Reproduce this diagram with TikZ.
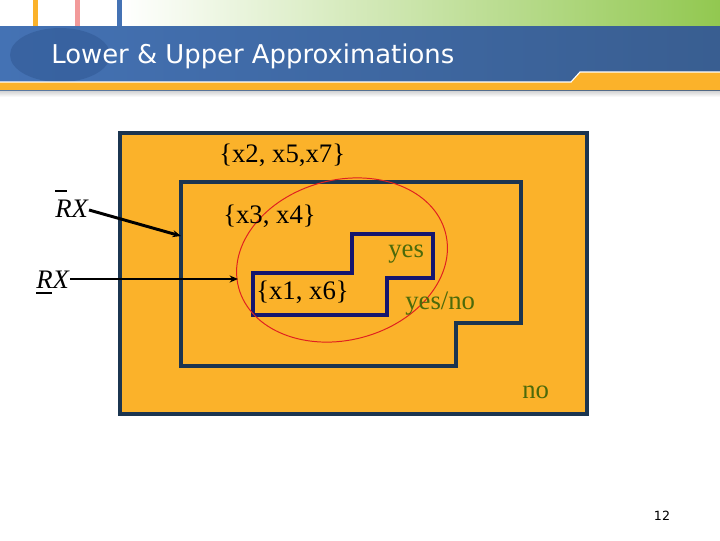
\documentclass[tikz,border=0pt]{standalone}
\usepackage{fontspec}
\setmainfont{Liberation Serif}
\newfontfamily\hdrfont{DejaVu Sans}
\usetikzlibrary{
    arrows.meta
}

\definecolor{boxorange}{RGB}{251,178,42}
\definecolor{boxnavy}{RGB}{27,53,80}
\definecolor{lownavy}{RGB}{22,22,110}
\definecolor{ansgreen}{RGB}{76,106,10}
\definecolor{hdrblueL}{RGB}{68,114,180}
\definecolor{hdrblueR}{RGB}{57,94,145}
\definecolor{hdrgreen}{RGB}{146,200,80}
\definecolor{hdrpink}{RGB}{242,154,154}
\definecolor{hdrdot}{RGB}{50,90,150}
\definecolor{ellred}{RGB}{224,32,32}

\newcommand\upperR{\rlap{\raisebox{0.95em}{\rule{0.45em}{0.07em}}}R}
\newcommand\lowerR{\rlap{\raisebox{-0.22em}{\rule{0.6em}{0.07em}}}R}

\begin{document}
\begin{tikzpicture}[x=0.025cm,y=-0.025cm,
    settext/.style={anchor=base west,inner sep=0pt,font=\fontsize{19}{22}\selectfont},
    anstext/.style={settext,text=ansgreen},
    approxline/.style={line width=2.8pt,line join=miter},
    pointer/.style={line width=2.1pt,-{Stealth[length=6pt,width=5pt]}}]

\useasboundingbox (0,0) rectangle (720,540);

% Header strip
\shade[left color=white,right color=hdrgreen] (122,0) rectangle (720,26);
\fill[boxorange] (33,0) rectangle (38,26);
\fill[hdrpink] (75,0) rectangle (80,26);
\fill[hdrblueL] (117,0) rectangle (122,26);
\shade[top color=gray!45,bottom color=white] (0,89) rectangle (720,97);
\shade[left color=hdrblueL,right color=hdrblueR] (0,26) rectangle (720,90);
\fill[hdrdot,opacity=0.6] (60,55) ellipse (50 and 27);
\fill[boxorange] (0,82) -- (571,82) -- (580,72) -- (720,72) -- (720,90) -- (0,90) -- cycle;
\draw[white,line width=0.8pt] (0,82) -- (571,82) -- (580,72) -- (720,72);
\node[anchor=base west,inner sep=0pt,text=white,
      font=\hdrfont\fontsize{18.4}{22}\selectfont] (title) at (51,63) {Lower \& Upper Approximations};

% Universe
\filldraw[fill=boxorange,draw=boxnavy,line width=2.8pt] (120,133) rectangle (587,414);

% Upper approximation
\draw[boxnavy,approxline]
(181,182) --
(521,182) --
(521,323) --
(456,323) --
(456,366) --
(181,366) -- cycle;

% Lower approximation
\draw[lownavy,approxline]
(253,273) --
(352,273) --
(352,234) --
(433,234) --
(433,278) --
(387,278) --
(387,315) --
(253,315) -- cycle;

% Set X
\draw[ellred,line width=0.7pt,rotate around={15:(342,260)}] (342,260) ellipse (107 and 80);

% Sets and answers
\node[settext] (bnd) at (219,162) {\{x2, x5,x7\}};
\node[settext] (upset) at (223,223) {\{x3, x4\}};
\node[settext] (lowset) at (256,299) {\{x1, x6\}};
\node[anstext] (yes) at (388,257) {yes};
\node[anstext] (yesno) at (405,309) {yes/no};
\node[anstext] (no) at (522,398) {no};

% Approximation labels
\node[settext] (upRX) at (55,217) {\textit{\upperR X}};
\node[settext] (lowRX) at (36,288) {\textit{\lowerR X}};
\coordinate (upTip) at (181,236);
\coordinate (lowTip) at (238,279);
\draw[pointer] (upRX.east |- 0,210) -- (upTip);
\draw[pointer] (lowRX.east |- lowTip) -- (lowTip);

% Page number
\node[inner sep=0pt,font=\hdrfont\fontsize{9}{10}\selectfont] (page) at (662,516) {12};

\end{tikzpicture}
\end{document}
